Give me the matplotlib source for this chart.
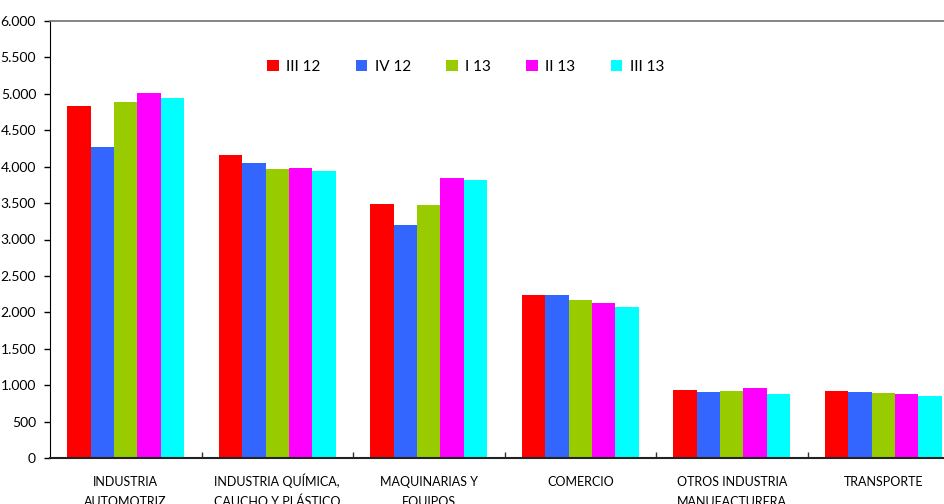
import numpy as np
import matplotlib.pyplot as plt
from matplotlib.ticker import FuncFormatter
import matplotlib.transforms as mtransforms

plt.rcParams['font.family'] = ['Lato', 'DejaVu Sans']

categorias = ['INDUSTRIA\nAUTOMOTRIZ', 'INDUSTRIA QUÍMICA,\nCAUCHO Y PLÁSTICO',
              'MAQUINARIAS Y\nEQUIPOS', 'COMERCIO',
              'OTROS INDUSTRIA\nMANUFACTURERA', 'TRANSPORTE']
periodos = ['III 12', 'IV 12', 'I 13', 'II 13', 'III 13']
colores = ['#FF0000', '#3366FF', '#99CC00', '#FF00FF', '#00FFFF']

iii_12 = [4833, 4160, 3488, 2238, 934, 920]
iv_12 = [4270, 4050, 3199, 2238, 906, 906]
i_13 = [4888, 3968, 3474, 2169, 920, 892]
ii_13 = [5012, 3982, 3845, 2128, 961, 879]
iii_13 = [4943, 3941, 3817, 2073, 879, 851]
series = [iii_12, iv_12, i_13, ii_13, iii_13]

fig = plt.figure(figsize=(9.44, 5.04), dpi=100)
# axes run a bit past the right edge of the figure
ax = fig.add_axes([50/944, 46/504, 909/944, 437/504])

x = np.arange(len(categorias))
ancho = 0.155
for i, (vals, col, lab) in enumerate(zip(series, colores, periodos)):
	ax.bar(x + (i - 2) * ancho, vals, width=ancho, color=col, label=lab,
		   linewidth=0, zorder=2)

ax.set_xlim(-0.5, len(categorias) - 0.5)
ax.set_ylim(0, 6000)
ax.set_yticks(np.arange(0, 6001, 500))
ax.yaxis.set_major_formatter(FuncFormatter(lambda v, p: '{:,.0f}'.format(v).replace(',', '.')))
ax.tick_params(axis='y', direction='out', length=4, width=1, labelsize=10, pad=6)

# category names: each line placed on its own baseline so accents don't shift them
ax.set_xticks(x)
ax.set_xticklabels([])
ax.tick_params(axis='x', length=0)
trans = mtransforms.blended_transform_factory(ax.transData, ax.transAxes)
for xi, nombre in zip(x, categorias):
	for j, linea in enumerate(nombre.split('\n')):
		ax.text(xi, (-28 - 19.5 * j) / 437, linea, transform=trans, ha='center',
				va='baseline', fontsize=9, clip_on=False)

ax.set_xticks(np.arange(0.5, len(categorias) - 0.5, 1), minor=True)
ax.tick_params(axis='x', which='minor', direction='in', length=4, width=1, color='#333333')

ax.spines['left'].set_color('black')
ax.spines['bottom'].set_color('#222222')
ax.spines['bottom'].set_linewidth(1.5)
ax.spines['top'].set_color('#707070')
ax.spines['top'].set_linewidth(1.2)
ax.spines['right'].set_visible(False)

ax.legend(loc='upper left', bbox_to_anchor=(211/909, 0.925), ncol=5, frameon=False,
		  fontsize=11, handlelength=0.75, handleheight=0.75, handletextpad=0.5,
		  columnspacing=2.3, borderaxespad=0)

fig.savefig('out.png', dpi=100)
